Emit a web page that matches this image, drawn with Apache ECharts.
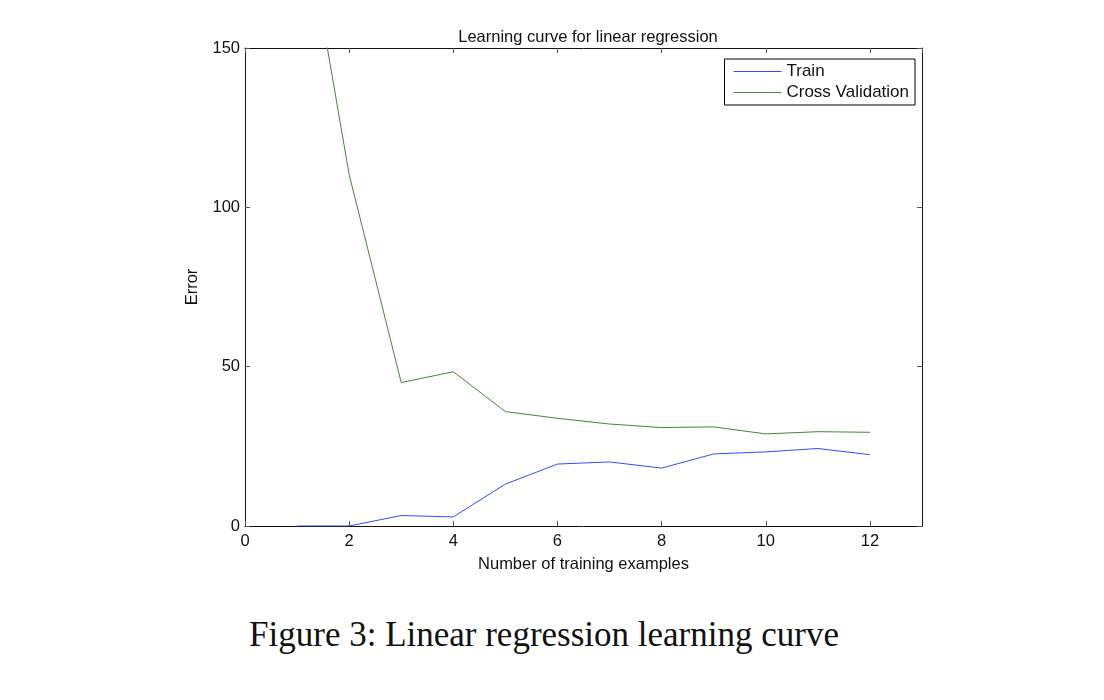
<!DOCTYPE html>
<html>
<head>
<meta charset="utf-8">
<script src="https://cdn.jsdelivr.net/npm/echarts@6/dist/echarts.min.js"></script>
<style>
  html, body { margin: 0; padding: 0; background: #fff; }
  #chart { width: 1104px; height: 600px; }
  #caption { position: absolute; left: 0; top: 615px; width: 1088px; text-align: center;
             font-family: "Liberation Serif", "DejaVu Serif", serif; font-size: 35px; color: #111; }
</style>
</head>
<body>
<div id="chart"></div>
<div id="caption">Figure 3: Linear regression learning curve</div>
<script>
var examples = [1, 2, 3, 4, 5, 6, 7, 8, 9, 10, 11, 12];
var trainError = [0.0, 0.0, 3.29, 2.84, 13.15, 19.44, 20.10, 18.17, 22.61, 23.26, 24.32, 22.37];
var cvError = [205.1, 110.3, 45.0, 48.4, 35.9, 33.8, 32.0, 30.9, 31.1, 28.9, 29.6, 29.4];
var xTicks = [0, 2, 4, 6, 8, 10, 12];
var yTicks = [0, 50, 100, 150];

function pairs(xs, ys) {
    var out = [];
    for (var i = 0; i < xs.length; i++) {
        out.push([xs[i], ys[i]]);
    }
    return out;
}

var font = 'Liberation Sans, Arial, sans-serif';
var fs = 16.5;
var tick = { show: true, inside: true, length: 5, lineStyle: { color: '#555' } };
var line = { show: true, onZero: false, lineStyle: { color: '#111', width: 1 } };

var chart = echarts.init(document.getElementById('chart'));
var option = {
    animation: false,
    title: {
        text: 'Learning curve for linear regression',
        left: 583,
        textAlign: 'center',
        top: 24,
        textStyle: { color: '#111', fontWeight: 'normal', fontSize: fs, fontFamily: font }
    },
    legend: {
        orient: 'vertical',
        right: 189,
        top: 59,
        backgroundColor: '#fff',
        borderColor: '#000',
        borderWidth: 1,
        borderRadius: 0,
        padding: [4, 6, 4, 9],
        itemGap: 4,
        itemWidth: 48,
        itemHeight: 1,
        icon: 'rect',
        textStyle: { color: '#111', fontSize: 17, fontFamily: font },
        data: ['Train', 'Cross Validation']
    },
    grid: { left: 245, top: 48, right: 182, bottom: 74, containLabel: false },
    xAxis: [
        {
            type: 'value', min: 0, max: 13, interval: 2,
            name: 'Number of training examples',
            nameLocation: 'middle', nameGap: 30,
            nameTextStyle: { color: '#111', fontSize: fs, fontFamily: font },
            axisLine: line,
            axisTick: tick,
            axisLabel: {
                color: '#111', fontSize: fs, fontFamily: font, margin: 7, showMaxLabel: false,
                formatter: function (v) { return xTicks.indexOf(v) >= 0 ? String(v) : ''; }
            },
            splitLine: { show: false }
        },
        {
            type: 'value', min: 0, max: 13, interval: 2, position: 'top',
            axisLine: line,
            axisTick: tick,
            axisLabel: { show: false },
            splitLine: { show: false }
        }
    ],
    yAxis: [
        {
            type: 'value', min: 0, max: 150, interval: 50,
            name: 'Error',
            nameLocation: 'middle', nameGap: 44, nameRotate: 90,
            nameTextStyle: { color: '#111', fontSize: fs, fontFamily: font },
            axisLine: line,
            axisTick: tick,
            axisLabel: {
                color: '#111', fontSize: fs, fontFamily: font, margin: 5,
                formatter: function (v) { return yTicks.indexOf(v) >= 0 ? String(v) : ''; }
            },
            splitLine: { show: false }
        },
        {
            type: 'value', min: 0, max: 150, interval: 50, position: 'right',
            axisLine: line,
            axisTick: tick,
            axisLabel: { show: false },
            splitLine: { show: false }
        }
    ],
    series: [
        {
            name: 'Train',
            type: 'line',
            data: pairs(examples, trainError),
            symbol: 'none',
            clip: true,
            lineStyle: { color: '#2f4dff', width: 1 },
            itemStyle: { color: '#2f4dff' }
        },
        {
            name: 'Cross Validation',
            type: 'line',
            data: pairs(examples, cvError),
            symbol: 'none',
            clip: true,
            lineStyle: { color: '#3f8a32', width: 1 },
            itemStyle: { color: '#3f8a32' }
        },
        {
            // empty series so the top and right frame axes get drawn
            name: 'frame',
            type: 'line',
            xAxisIndex: 1,
            yAxisIndex: 1,
            data: [],
            symbol: 'none'
        }
    ]
};
chart.setOption(option);
</script>
</body>
</html>
